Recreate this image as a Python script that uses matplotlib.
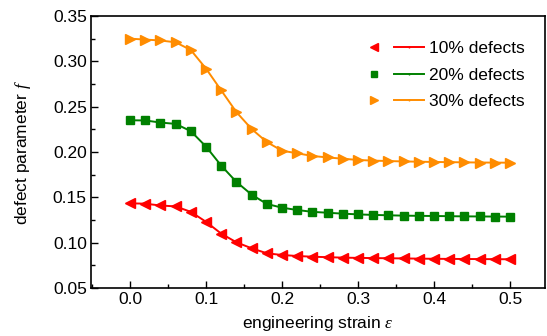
import matplotlib.pyplot as plt
import numpy as np
from matplotlib.lines import Line2D
from matplotlib.legend_handler import HandlerTuple
from matplotlib.ticker import MultipleLocator

plt.rcParams['font.family'] = ['Liberation Sans', 'DejaVu Sans']
plt.rcParams['mathtext.fontset'] = 'custom'
plt.rcParams['mathtext.it'] = 'Liberation Serif:italic'

# strain values (0 to 0.5 in steps of 0.02)
strain = [0.00, 0.02, 0.04, 0.06, 0.08, 0.10, 0.12, 0.14, 0.16, 0.18,
          0.20, 0.22, 0.24, 0.26, 0.28, 0.30, 0.32, 0.34, 0.36, 0.38,
          0.40, 0.42, 0.44, 0.46, 0.48, 0.50]

f_10 = [0.1434, 0.1430, 0.1410, 0.1400, 0.1340, 0.1230, 0.1100, 0.1004, 0.0938, 0.0883,
        0.0864, 0.0853, 0.0845, 0.0840, 0.0835, 0.0832, 0.0830, 0.0828, 0.0826, 0.0824,
        0.0822, 0.0821, 0.0820, 0.0819, 0.0818, 0.0817]
f_20 = [0.2350, 0.2348, 0.2325, 0.2310, 0.2230, 0.2060, 0.1850, 0.1670, 0.1530, 0.1427,
        0.1386, 0.1360, 0.1340, 0.1330, 0.1320, 0.1312, 0.1306, 0.1302, 0.1298, 0.1296,
        0.1294, 0.1292, 0.1290, 0.1289, 0.1288, 0.1287]
f_30 = [0.3250, 0.3240, 0.3230, 0.3210, 0.3125, 0.2920, 0.2680, 0.2440, 0.2254, 0.2110,
        0.2014, 0.1986, 0.1956, 0.1940, 0.1926, 0.1912, 0.1905, 0.1900, 0.1896, 0.1893,
        0.1890, 0.1888, 0.1886, 0.1884, 0.1883, 0.1882]

labels = ['10% defects', '20% defects', '30% defects']
colors = ['#ff0000', '#008000', '#ff8c00']
markers = ['<', 's', '>']
series = [f_10, f_20, f_30]

fig = plt.figure(figsize=(5.47, 3.36), dpi=100)
ax = fig.add_axes([91 / 547, 1 - 288 / 336, 454 / 547, 272 / 336])

handles = []
for vals, c, m, lab in zip(series, colors, markers, labels):
    ms = 5.5 if m == 's' else 7
    ax.plot(strain, vals, color=c, lw=1.4, marker=m, ms=ms, mec=c, mfc=c)
    mk = Line2D([], [], ls='none', marker=m, color=c, ms=5 if m == 's' else 6)
    ln = Line2D([], [], color=c, lw=1.4, marker='|', ms=2)
    handles.append((mk, ln))

ax.set_xlim(-0.0513, 0.546)
ax.set_ylim(0.05, 0.35)
ax.xaxis.set_major_locator(MultipleLocator(0.1))
ax.xaxis.set_minor_locator(MultipleLocator(0.05))
ax.yaxis.set_major_locator(MultipleLocator(0.05))
ax.yaxis.set_minor_locator(MultipleLocator(0.025))
ax.xaxis.set_major_formatter(plt.FormatStrFormatter('%.1f'))
ax.yaxis.set_major_formatter(plt.FormatStrFormatter('%.2f'))
ax.tick_params(which='both', direction='in', labelsize=12.5, top=False, right=False)
ax.tick_params(which='major', length=5, width=1, pad=3)
ax.tick_params(which='minor', length=3, width=1)
for s in ax.spines.values():
    s.set_linewidth(1.2)

ax.set_xlabel(r'engineering strain $\mathit{\varepsilon}$', fontsize=12.5, labelpad=5)
ax.set_ylabel(r'defect parameter $\mathit{f}$', fontsize=12.5, labelpad=14)

ax.legend(handles, labels, handler_map={tuple: HandlerTuple(ndivide=None, pad=0.29)},
          handlelength=3.75, handletextpad=0.3, fontsize=12.5, frameon=False,
          loc='upper right', bbox_to_anchor=(0.99, 0.965), labelspacing=0.65)

fig.savefig('out.png', dpi=100)
